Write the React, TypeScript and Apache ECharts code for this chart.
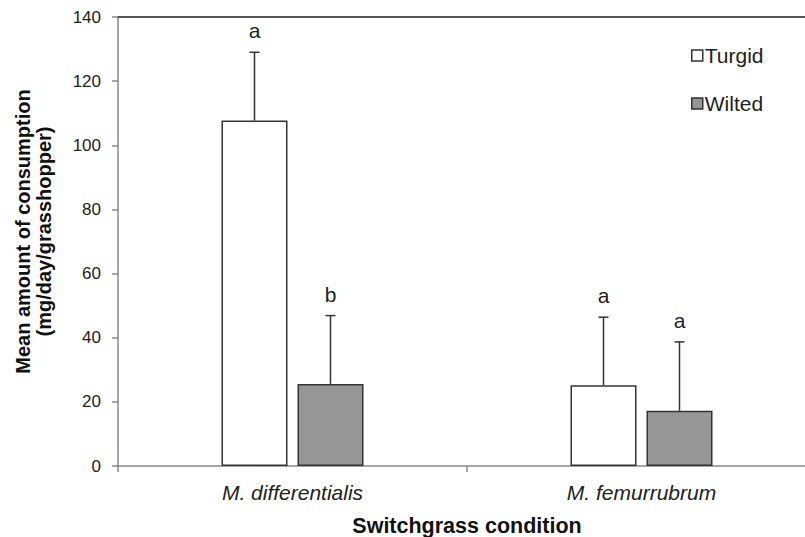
import React, { useEffect, useRef } from "react";
import * as echarts from "echarts";

const categories = ["M. differentialis", "M. femurrubrum"];
const seriesNames = ["Turgid", "Wilted"];
const turgidMeans = [107.7, 25.2];
const wiltedMeans = [25.6, 17.2];
const turgidUpper = [129.0, 46.4];
const wiltedUpper = [46.9, 38.7];
const turgidLetters = ["a", "a"];
const wiltedLetters = ["b", "a"];
const yTicks = [0, 20, 40, 60, 80, 100, 120, 140];

const FONT = "'Liberation Sans', Arial, sans-serif";
const BAR_W = 66;
const BAR_GAP = 10;
const OFFSET = (BAR_W + BAR_GAP) / 2;

function errorSeries(name: string, means: number[], upper: number[], letters: string[], dir: number) {
  return {
    type: "custom",
    name: name + "-err",
    xAxisIndex: 0,
    yAxisIndex: 0,
    z: 5,
    data: means.map((m, i) => [i, m, upper[i]]),
    renderItem: (params: any, api: any) => {
      const idx = api.value(0);
      const base = api.coord([idx, api.value(1)]);
      const top = api.coord([idx, api.value(2)]);
      const x = base[0] + dir * OFFSET;
      const cap = 5;
      return {
        type: "group",
        children: [
          { type: "line", shape: { x1: x, y1: base[1], x2: x, y2: top[1] }, style: { stroke: "#333", lineWidth: 1.5 } },
          { type: "line", shape: { x1: x - cap, y1: top[1], x2: x + cap, y2: top[1] }, style: { stroke: "#333", lineWidth: 1.5 } },
          {
            type: "text",
            x: x,
            y: top[1] - 11,
            style: { text: letters[idx], fill: "#222", font: "21px " + FONT, align: "center", verticalAlign: "bottom" },
          },
        ],
      };
    },
  };
}

export default function App() {
  const ref = useRef<HTMLDivElement>(null);
  useEffect(() => {
    if (!ref.current) return;
    const chart = echarts.init(ref.current, null, { renderer: "svg" });
    chart.setOption({
      animation: false,
      backgroundColor: "#fff",
      textStyle: { fontFamily: FONT },
      grid: { left: 118, top: 17, width: 698, height: 449, containLabel: false, outerBoundsMode: "none" },
      legend: {
        orient: "vertical",
        left: 691,
        top: 45,
        padding: 0,
        itemWidth: 11,
        itemHeight: 11,
        itemGap: 27,
        icon: "rect",
        data: seriesNames,
        itemStyle: { borderColor: "#333", borderWidth: 1.5 },
        textStyle: { fontSize: 21, lineHeight: 20, color: "#222", fontFamily: FONT, padding: [0, 0, 0, -3] },
        selectedMode: false,
      },
      xAxis: [
        {
          type: "category",
          data: categories,
          boundaryGap: true,
          axisLine: { lineStyle: { color: "#888", width: 1.5 } },
          axisTick: { show: true, length: 6, lineStyle: { color: "#888", width: 1.5 } },
          axisLabel: { fontSize: 21, fontStyle: "italic", color: "#222", margin: 16, fontFamily: FONT },
          name: "Switchgrass condition",
          nameLocation: "middle",
          nameGap: 49,
          nameTextStyle: { fontSize: 21.5, fontWeight: "bold", color: "#111", fontFamily: FONT },
        },
        {
          type: "category",
          data: categories,
          position: "top",
          axisLine: { show: true, lineStyle: { color: "#555", width: 2 } },
          axisTick: { show: false },
          axisLabel: { show: false },
        },
      ],
      yAxis: {
        type: "value",
        min: 0,
        max: 140,
        interval: 20,
        axisLine: { show: true, lineStyle: { color: "#888", width: 1.5 } },
        axisTick: { show: true, length: 6, lineStyle: { color: "#888", width: 1.5 } },
        splitLine: { show: false },
        axisLabel: {
          fontSize: 17,
          color: "#222",
          margin: 17,
          fontFamily: FONT,
          formatter: (v: number) => (yTicks.includes(v) ? String(v) : ""),
        },
        name: "Mean amount of consumption\n(mg/day/grasshopper)",
        nameLocation: "middle",
        nameRotate: 90,
        nameGap: 64,
        nameTextStyle: { fontSize: 20, fontWeight: "bold", color: "#111", lineHeight: 21, fontFamily: FONT, padding: [0, 0, 0, 20] },
      },
      series: [
        {
          type: "bar",
          name: seriesNames[0],
          data: turgidMeans,
          barWidth: BAR_W,
          barGap: (BAR_GAP / BAR_W) * 100 + "%",
          itemStyle: { color: "#fff", borderColor: "#333", borderWidth: 1.5 },
        },
        {
          type: "bar",
          name: seriesNames[1],
          data: wiltedMeans,
          barWidth: BAR_W,
          itemStyle: { color: "#969696", borderColor: "#333", borderWidth: 1.5 },
        },
        errorSeries(seriesNames[0], turgidMeans, turgidUpper, turgidLetters, -1),
        errorSeries(seriesNames[1], wiltedMeans, wiltedUpper, wiltedLetters, 1),
      ],
    });
    return () => chart.dispose();
  }, []);
  return <div ref={ref} style={{ width: 805, height: 537, position: "absolute", left: 0, top: 0 }} />;
}
